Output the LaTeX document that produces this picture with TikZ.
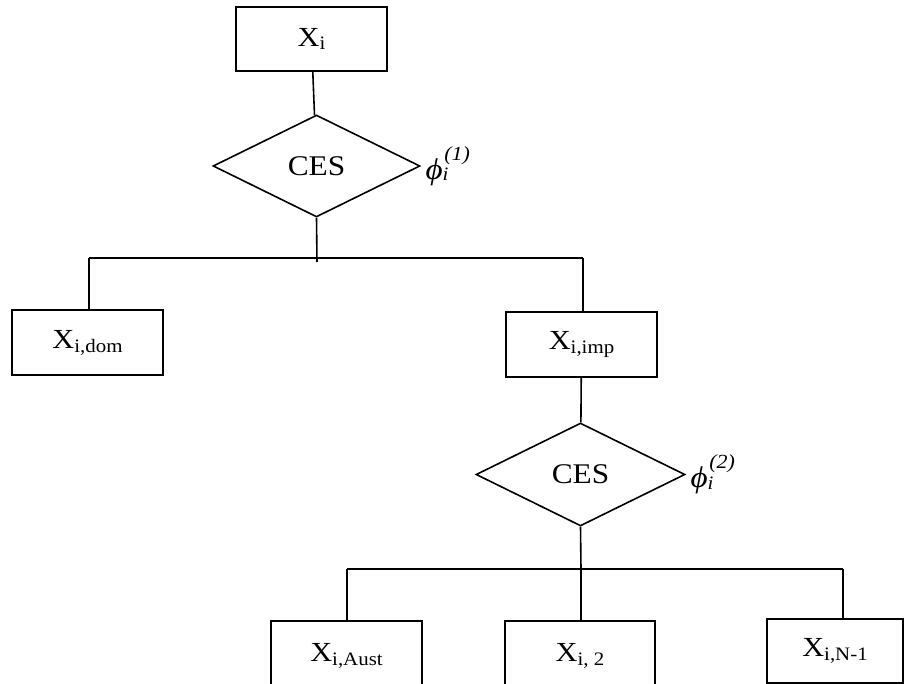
\documentclass[tikz,border=0pt]{standalone}
\usepackage{fontspec}
\setmainfont[FakeStretch=1.1]{Liberation Serif}
\usetikzlibrary{shapes.geometric}
\newcommand{\lowsub}[1]{\raisebox{-0.14em}{\fontsize{19}{19}\selectfont #1}}
\newcommand{\phisub}[2]{\textit{ϕ}\rlap{\raisebox{-0.05em}{\fontsize{19}{19}\selectfont\textit{i}}}\raisebox{0.63em}{\fontsize{20}{20}\selectfont\kern0.08em\textit{(#2)}}}
\begin{document}
\begin{tikzpicture}[x=1pt,y=-1pt,line width=1.6pt,
    box/.style={draw,rectangle,inner sep=0pt,font=\fontsize{27.6}{30}\selectfont},
    ces/.style={draw,diamond,inner sep=0pt,font=\fontsize{28.5}{30}\selectfont},
    share/.style={anchor=west,inner sep=1pt,xshift=3pt,font=\fontsize{30}{32}\selectfont}]
    \useasboundingbox (0,0) rectangle (905,684);
    \node[box,minimum width=151,minimum height=64] (xi) at (311.5,39) {X\lowsub{i}};
    \node[ces,minimum width=207,minimum height=102] (ces1) at (316.5,166) {CES};
    \node[share] (phi1) at (ces1.east) {\phisub{i}{1}};
    \coordinate (b1l) at (89,258);
    \coordinate (b1r) at (583,258);
    \coordinate (b1c) at (317,262);
    \node[box,minimum width=151,minimum height=65] (dom) at (87.5,342.5) {X\lowsub{i,dom}};
    \node[box,minimum width=151,minimum height=65] (imp) at (581.5,344.5) {X\lowsub{i,imp}};
    \node[ces,minimum width=209,minimum height=103] (ces2) at (580.5,474.5) {CES};
    \node[share] (phi2) at (ces2.east) {\phisub{i}{2}};
    \coordinate (b2l) at (347,569);
    \coordinate (b2r) at (843,569);
    \coordinate (b2c) at (581,569);
    \node[box,minimum width=151,minimum height=70] (aust) at (346.5,656) {X\lowsub{i,Aust}};
    \node[box,minimum width=150,minimum height=70] (two) at (580,656) {X\lowsub{i, 2}};
    \node[box,minimum width=136,minimum height=64] (nm1) at (835,651) {X\lowsub{i,N-1}};
    \draw (xi) -- (ces1);
    \draw (ces1.south) -- (b1c);
    \draw (b1l) -- (b1r);
    \draw (b1l) -- (b1l |- dom.north);
    \draw (b1r) -- (b1r |- imp.north);
    \draw (imp) -- (ces2);
    \draw (ces2.south) -- (b2c);
    \draw (b2l) -- (b2r);
    \draw (b2l) -- (b2l |- aust.north);
    \draw (b2c) -- (b2c |- two.north);
    \draw (b2r) -- (b2r |- nm1.north);
\end{tikzpicture}
\end{document}
